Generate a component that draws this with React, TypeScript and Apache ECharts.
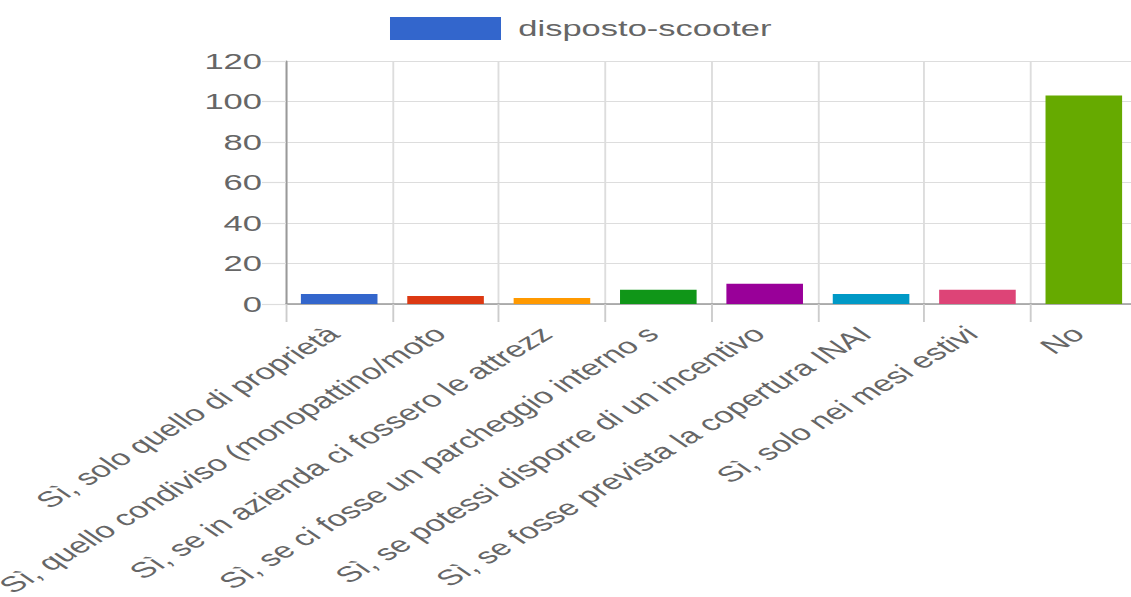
import React, { useEffect, useRef } from "react";
import * as echarts from "echarts";

const categories = [
  "Sì, solo quello di proprietà",
  "Sì, quello condiviso (monopattino/moto",
  "Sì, se in azienda ci fossero le attrezz",
  "Sì, se ci fosse un parcheggio interno s",
  "Sì, se potessi disporre di un incentivo",
  "Sì, se fosse prevista la copertura INAI",
  "Sì, solo nei mesi estivi",
  "No",
];
const values = [5, 4, 3, 7, 10, 5, 7, 103];
const barColors = ["#3366cc", "#dc3912", "#ff9900", "#109618", "#990099", "#0099c6", "#dd4477", "#66aa00"];
const seriesName = "disposto-scooter";

const S = 1.57; // horizontal stretch of the reference picture

export default function App() {
  const ref = useRef<HTMLDivElement>(null);
  useEffect(() => {
    if (!ref.current) return;
    const chart = echarts.init(ref.current, null, { renderer: "svg" });
    chart.setOption({
      animation: false,
      backgroundColor: "#ffffff",
      textStyle: { fontFamily: "Liberation Sans, Arial, sans-serif" },
      legend: {
        left: 390 / S,
        top: 17,
        padding: 0,
        itemWidth: 111 / S,
        itemHeight: 23,
        itemGap: 18 / S,
        icon: "rect",
        textStyle: { fontSize: 22, color: "#666666", padding: [0, 0, 0, 6] },
        data: [seriesName],
      },
      grid: {
        left: 286 / S,
        top: 61,
        bottom: 293,
        width: 851 / S,
        containLabel: false,
        outerBoundsMode: "none",
      },
      xAxis: {
        type: "category",
        data: categories,
        axisLine: { lineStyle: { color: "#999999", width: 1.5 } },
        axisTick: { show: true, length: 18, alignWithLabel: false, lineStyle: { color: "#cccccc", width: 1.2 } },
        splitLine: { show: true, lineStyle: { color: "#dddddd", width: 1.2 } },
        axisLabel: {
          interval: 0,
          rotate: 43,
          fontSize: 22,
          color: "#666666",
          margin: 23,
          padding: [0, 5, 0, 0],
        },
      },
      yAxis: {
        type: "value",
        min: 0,
        max: 120,
        interval: 20,
        axisLine: { show: true, lineStyle: { color: "#999999", width: 1.2 } },
        axisTick: { show: true, length: 24 / S, lineStyle: { color: "#dddddd", width: 1.2 } },
        splitLine: { show: true, lineStyle: { color: "#dddddd", width: 1.2 } },
        axisLabel: { fontSize: 22, color: "#666666", margin: 24 / S },
      },
      series: [
        {
          name: seriesName,
          type: "bar",
          barCategoryGap: "28%",
          itemStyle: { color: barColors[0] },
          data: values.map((v, i) => ({ value: v, itemStyle: { color: barColors[i] } })),
        },
      ],
    });
    return () => chart.dispose();
  }, []);
  return (
    <div style={{ position: "absolute", left: 0, top: 0, width: 1131, height: 597, overflow: "hidden", background: "#fff" }}>
      <div
        ref={ref}
        style={{ width: 740, height: 597, transform: `scaleX(${S})`, transformOrigin: "0 0" }}
      />
    </div>
  );
}
